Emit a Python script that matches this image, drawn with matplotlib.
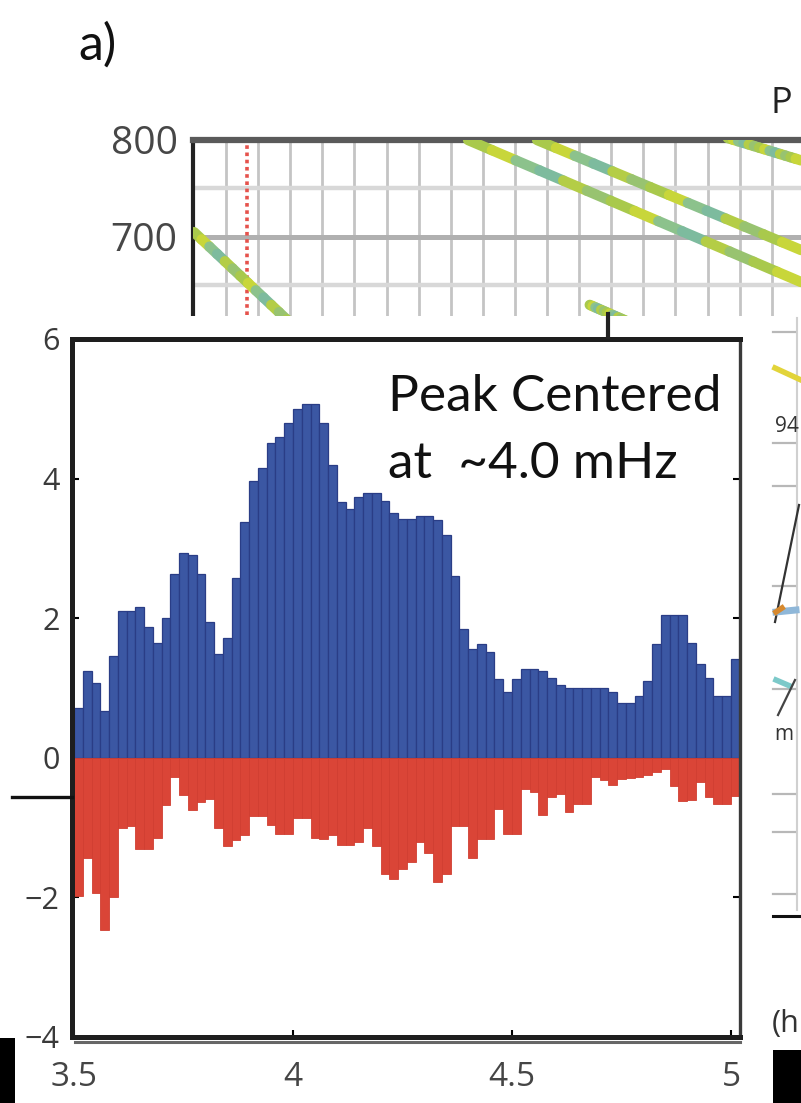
import numpy as np
import matplotlib
matplotlib.use("Agg")
import matplotlib.pyplot as plt
from matplotlib.patches import Rectangle
from matplotlib.collections import LineCollection
from matplotlib.lines import Line2D

# ---------------- data ----------------
freq_start = 3.5
bin_width = 0.02
pos_vals = [0.72, 1.25, 1.07, 0.67, 1.46, 2.10, 2.10, 2.16, 1.88, 1.65,
            2.00, 2.64, 2.93, 2.90, 2.64, 1.94, 1.48, 1.71, 2.58, 3.38,
            3.96, 4.15, 4.51, 4.60, 4.80, 5.00, 5.07, 5.07, 4.79, 4.19,
            3.66, 3.57, 3.74, 3.79, 3.79, 3.68, 3.51, 3.42, 3.42, 3.47,
            3.47, 3.40, 3.19, 2.60, 1.84, 1.56, 1.63, 1.52, 1.13, 0.94,
            1.13, 1.27, 1.27, 1.25, 1.14, 1.04, 1.00, 1.00, 1.00, 1.00,
            1.00, 0.94, 0.79, 0.79, 0.88, 1.10, 1.63, 2.04, 2.04, 2.04,
            1.65, 1.34, 1.15, 0.89, 0.89, 1.41]
neg_vals = [-1.98, -1.44, -1.93, -2.47, -1.99, -1.01, -0.97, -1.31, -1.31, -1.15,
            -0.67, -0.27, -0.54, -0.75, -0.63, -0.59, -1.01, -1.26, -1.18, -1.10,
            -0.84, -0.84, -0.96, -1.09, -1.09, -0.86, -0.86, -1.15, -1.16, -1.10,
            -1.25, -1.25, -1.21, -1.01, -1.26, -1.67, -1.73, -1.60, -1.49, -1.20,
            -1.37, -1.78, -1.67, -0.97, -0.97, -1.43, -1.17, -1.17, -0.73, -1.09,
            -1.09, -0.44, -0.49, -0.82, -0.56, -0.52, -0.77, -0.66, -0.66, -0.27,
            -0.32, -0.39, -0.30, -0.29, -0.27, -0.24, -0.21, -0.16, -0.40, -0.62,
            -0.60, -0.34, -0.56, -0.66, -0.66, -0.55]
freqs = freq_start + bin_width * (np.arange(len(pos_vals)) + 0.5)

y_ticks = [-4, -2, 0, 2, 4, 6]
y_tick_labels = ["\u22124", "\u22122", "0", "2", "4", "6"]
x_ticks = [3.5, 4.0, 4.5, 5.0]
x_tick_labels = ["3.5", "4", "4.5", "5"]
annot_line1 = "Peak Centered"
annot_line2 = "at  ~4.0 mHz"
panel_label = "a)"

# background panel fragments (partially hidden behind the inset)
bg_y_ticks = [800, 700]
bg_y_tick_labels = ["800", "700"]
bg_minor_y = [750, 650]
bg_grid_x = list(np.arange(18) + 1.03)
bg_marker_x = 1.68
bg_tracks = [  # (x0, y0, x1, y1) in background-axis units
    (0.03, 705.0, 3.40, 600.0),
    (8.57, 800.0, 18.94, 653.6),
    (10.72, 800.0, 18.94, 686.6),
    (16.66, 802.0, 18.94, 779.0),
    (12.36, 630.0, 13.60, 612.0),
]
track_palette = ["#a9c94c", "#c8d63a", "#8cc28c", "#7dbb9e", "#b4cd46", "#98c370"]

W, H = 801, 1103
fig = plt.figure(figsize=(W / 100, H / 100), dpi=100)


def fx(px):
    return px / W


def fy(py):
    return 1 - py / H


TXT = ["Open Sans", "DejaVu Sans"]

# ---------------- background axes ----------------
bg = fig.add_axes([fx(193), fy(900), fx(801) - fx(193), fy(140) - fy(900)], zorder=0)
bg.set_xlim(0, 608 / 32.1)
bg.set_ylim(800 - 760 / 0.97, 800)
for gx in bg_grid_x:
    bg.axvline(gx, color="#c4c4c4", lw=2.0, zorder=1)
for gy in bg_minor_y:
    bg.axhline(gy, color="#d8d8d8", lw=3.2, zorder=1)
bg.axhline(700, color="#b0b0b0", lw=3.6, zorder=1)
bg.axvline(bg_marker_x, color="#e5524c", lw=2.6, ls=(0, (1.0, 1.0)), zorder=2)
for (x0, y0, x1, y1) in bg_tracks:
    n = 14
    xs = np.linspace(x0, x1, n + 1)
    ys = np.linspace(y0, y1, n + 1)
    segs = [[(xs[k], ys[k]), (xs[k + 1], ys[k + 1])] for k in range(n)]
    cols = [track_palette[k % len(track_palette)] for k in range(n)]
    lc = LineCollection(segs, colors=cols, linewidths=7.5, capstyle="round", zorder=3)
    bg.add_collection(lc)
bg.set_xticks([])
bg.set_yticks(bg_y_ticks)
bg.set_yticklabels(bg_y_tick_labels, fontsize=28, color="#474747", family=TXT)
bg.tick_params(axis="y", length=0, pad=11)
for s in ["right", "bottom"]:
    bg.spines[s].set_visible(False)
bg.spines["left"].set_color("#222222")
bg.spines["left"].set_linewidth(3.0)
bg.spines["top"].set_color("#5a5a5a")
bg.spines["top"].set_linewidth(4.5)

# white box hiding the background behind the inset
fig.add_artist(Rectangle((fx(12), fy(1052)), fx(801) - fx(12), fy(316) - fy(1052),
                         transform=fig.transFigure, facecolor="white",
                         edgecolor="none", zorder=1))

# ---------------- inset bar chart ----------------
ax = fig.add_axes([fx(72), fy(1037), fx(740) - fx(72), fy(339) - fy(1037)], zorder=2)
ax.bar(freqs, pos_vals, width=bin_width, color="#3b57a3", edgecolor="#2a3d86",
       linewidth=0.9, zorder=2)
ax.bar(freqs, neg_vals, width=bin_width, color="#da4537", edgecolor="#d03e31",
       linewidth=0.6, zorder=2)
ax.set_xlim(3.5 - 2 / 438, 3.5 + 668 / 438 - 2 / 438)
ax.set_ylim(-4, 6)
ax.set_xticks(x_ticks)
ax.set_xticklabels(x_tick_labels, fontsize=24, color="#454545", family=TXT)
ax.set_yticks(y_ticks)
ax.set_yticklabels(y_tick_labels, fontsize=22, color="#3a3a3a", family=TXT)
ax.tick_params(axis="x", direction="in", length=5, width=1.5, pad=17, top=False)
ax.tick_params(axis="y", direction="in", length=5, width=1.5, pad=9, right=True)
for s in ["left", "bottom", "top"]:
    ax.spines[s].set_color("#1e1e1e")
    ax.spines[s].set_linewidth(3.6)
ax.spines["right"].set_color("#3a3a3a")
ax.spines["right"].set_linewidth(2.4)

ax.text((388 - 72) / 668, (1037 - 411) / 698, annot_line1, transform=ax.transAxes,
        fontsize=37, family=["Lato", "DejaVu Sans"], color="#111111",
        ha="left", va="baseline", zorder=5)
ax.text((388 - 72) / 668, (1037 - 478) / 698, annot_line2, transform=ax.transAxes,
        fontsize=37, family=["Lato", "DejaVu Sans"], color="#111111",
        ha="left", va="baseline", zorder=5)

# grey shadow under the inset bottom spine
fig.add_artist(Line2D([fx(75), fx(740)], [fy(1042), fy(1042)], transform=fig.transFigure,
                      color="#666666", lw=2.2, zorder=3))

# ---------------- other decorations ----------------
fig.text(fx(78), fy(60), panel_label, fontsize=36, family=["Lato", "DejaVu Sans"],
         color="#111111", ha="left", va="baseline")
fig.text(fx(770), fy(113), "P", fontsize=26, family=TXT, color="#222222",
         ha="left", va="baseline")

# small tick of background axis above inset
fig.add_artist(Line2D([fx(608), fx(608)], [fy(314), fy(337)], transform=fig.transFigure,
                      color="#222222", lw=3.0, zorder=3))
# left black stub line
fig.add_artist(Line2D([fx(12), fx(72)], [fy(797), fy(797)], transform=fig.transFigure,
                      color="#111111", lw=2.4, zorder=3))
# black blocks at bottom
fig.add_artist(Rectangle((0, 0), fx(15), fy(1038), transform=fig.transFigure,
                         facecolor="black", edgecolor="none", zorder=3))
fig.add_artist(Rectangle((fx(773), 0), fx(801) - fx(773), fy(1050), transform=fig.transFigure,
                         facecolor="black", edgecolor="none", zorder=3))

# right-hand neighbour panel fragments
fig.add_artist(Line2D([fx(797), fx(797)], [fy(318), fy(910)], transform=fig.transFigure,
                      color="#d0d0d0", lw=1.5, zorder=3))
for ty in [332, 443, 486, 586, 689, 794, 832, 894]:
    fig.add_artist(Line2D([fx(773), fx(795)], [fy(ty), fy(ty)], transform=fig.transFigure,
                          color="#b8b8b8", lw=1.6, zorder=3))
fig.add_artist(Line2D([fx(775), fx(801)], [fy(368), fy(380)], transform=fig.transFigure,
                      color="#e2d43a", lw=4, zorder=3))
fig.add_artist(Line2D([fx(799), fx(775)], [fy(505), fy(622)], transform=fig.transFigure,
                      color="#333333", lw=1.6, zorder=3))
fig.add_artist(Line2D([fx(776), fx(796)], [fy(612), fy(610)], transform=fig.transFigure,
                      color="#8fb7d8", lw=5, zorder=3))
fig.add_artist(Line2D([fx(776), fx(782)], [fy(612), fy(608)], transform=fig.transFigure,
                      color="#d7892e", lw=4, zorder=3))
fig.add_artist(Line2D([fx(776), fx(790)], [fy(680), fy(686)], transform=fig.transFigure,
                      color="#7cc9c9", lw=4, zorder=3))
fig.add_artist(Line2D([fx(795), fx(778)], [fy(680), fy(715)], transform=fig.transFigure,
                      color="#444444", lw=1.6, zorder=3))
fig.text(fx(775), fy(432), "94", fontsize=15, family=TXT, color="#333333",
         ha="left", va="baseline", zorder=4)
fig.text(fx(774), fy(740), "m", fontsize=15, family=TXT, color="#333333",
         ha="left", va="baseline", zorder=4)
fig.add_artist(Line2D([fx(773), fx(801)], [fy(916), fy(916)], transform=fig.transFigure,
                      color="#111111", lw=2.2, zorder=3))
fig.text(fx(772), fy(1032), "(h", fontsize=22, family=TXT, color="#333333",
         ha="left", va="baseline", zorder=4)

fig.savefig("out.png", dpi=100)
